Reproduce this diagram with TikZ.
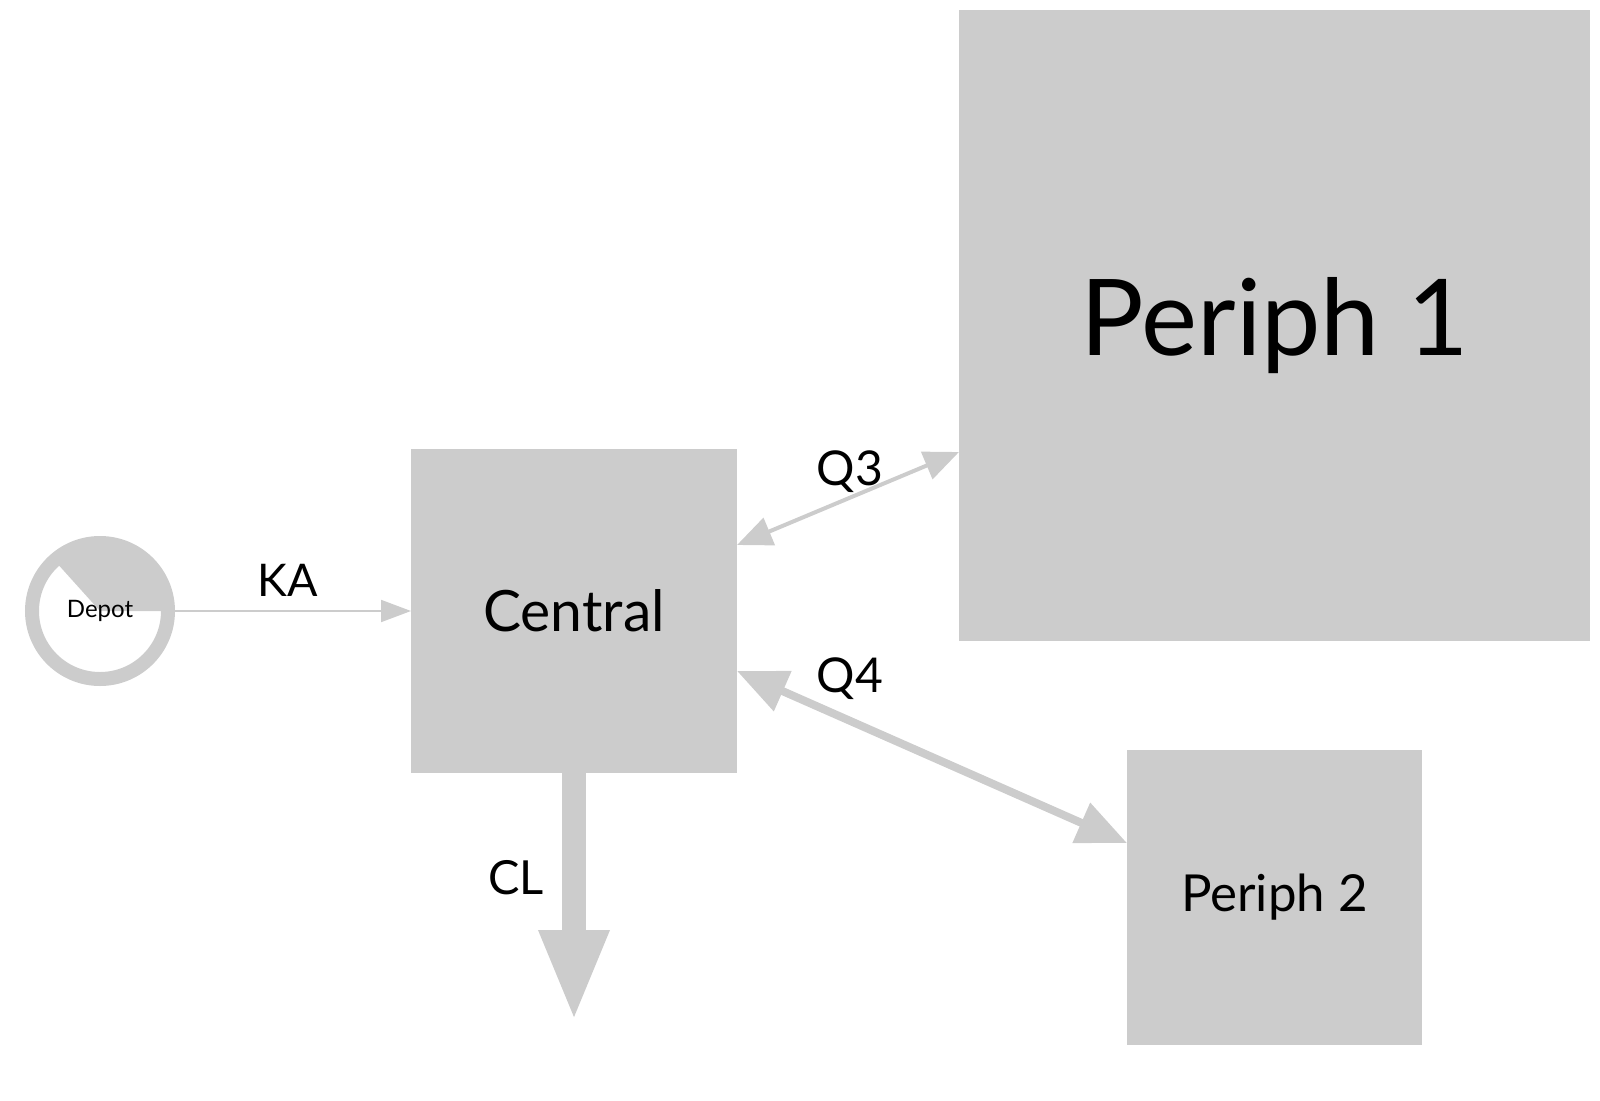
\documentclass[tikz,border=0pt]{standalone}
\usepackage{fontspec}
\setmainfont{Lato}
\usetikzlibrary{arrows.meta,calc}
\definecolor{boxgray}{HTML}{CCCCCC}
\tikzset{
  gbox/.style={fill=boxgray, draw=none, inner sep=0pt, outer sep=0pt, text=black},
  elabel/.style={text=black, inner sep=0pt},
  conn/.style={draw=boxgray},
}
\begin{document}
\begin{tikzpicture}[x=1pt,y=1pt]
\useasboundingbox (0,0) rectangle (1600,-1100);
% nodes
\node[gbox, minimum width=326, minimum height=324] (central) at (574,-611) {\fontsize{57}{66}\selectfont Central};
\node[gbox, minimum width=631, minimum height=631] (periph1) at (1274.5,-325.5) {\fontsize{106}{120}\selectfont Periph 1};
\node[gbox, minimum width=295, minimum height=295] (periph2) at (1274.5,-897.5) {\fontsize{51}{60}\selectfont Periph 2};
% depot
\node[circle, draw=boxgray, line width=14, minimum size=136, inner sep=0pt] (depot) at (100,-611) {};
\fill[boxgray] (depot.center) -- ++(0:62) arc[start angle=0, end angle=132, radius=62] -- cycle;
\node[elabel] (depotlabel) at (100,-611) {\fontsize{24}{28}\selectfont Depot};
% connectors
\draw[conn, line width=2, -{Triangle[length=30,width=22]}] (depot.east) -- (central.west);
\coordinate (q3a) at ($(central.north east)+(0,-96)$);
\coordinate (q3b) at ($(periph1.north west)+(0,-442)$);
\draw[conn, line width=4, {Triangle[length=35,width=29]}-{Triangle[length=35,width=29]}] (q3a) -- (q3b);
\coordinate (q4a) at ($(central.north east)+(0,-222)$);
\coordinate (q4b) at ($(periph2.north west)+(0,-93)$);
\draw[conn, line width=8, {Triangle[length=50,width=42]}-{Triangle[length=50,width=42]}] (q4a) -- (q4b);
\coordinate (clend) at (574,-1022);
\draw[conn, line width=24, -{Triangle[length=92,width=64]}] (central.south) -- (clend);
% labels
\node[elabel] (ka) at (288,-580) {\fontsize{45}{54}\selectfont KA};
\node[elabel] (q3) at (850,-472) {\fontsize{48}{58}\selectfont Q3};
\node[elabel] (q4) at (850,-679) {\fontsize{48}{58}\selectfont Q4};
\node[elabel] (cl) at (516,-878) {\fontsize{47}{56}\selectfont CL};
\end{tikzpicture}
\end{document}
